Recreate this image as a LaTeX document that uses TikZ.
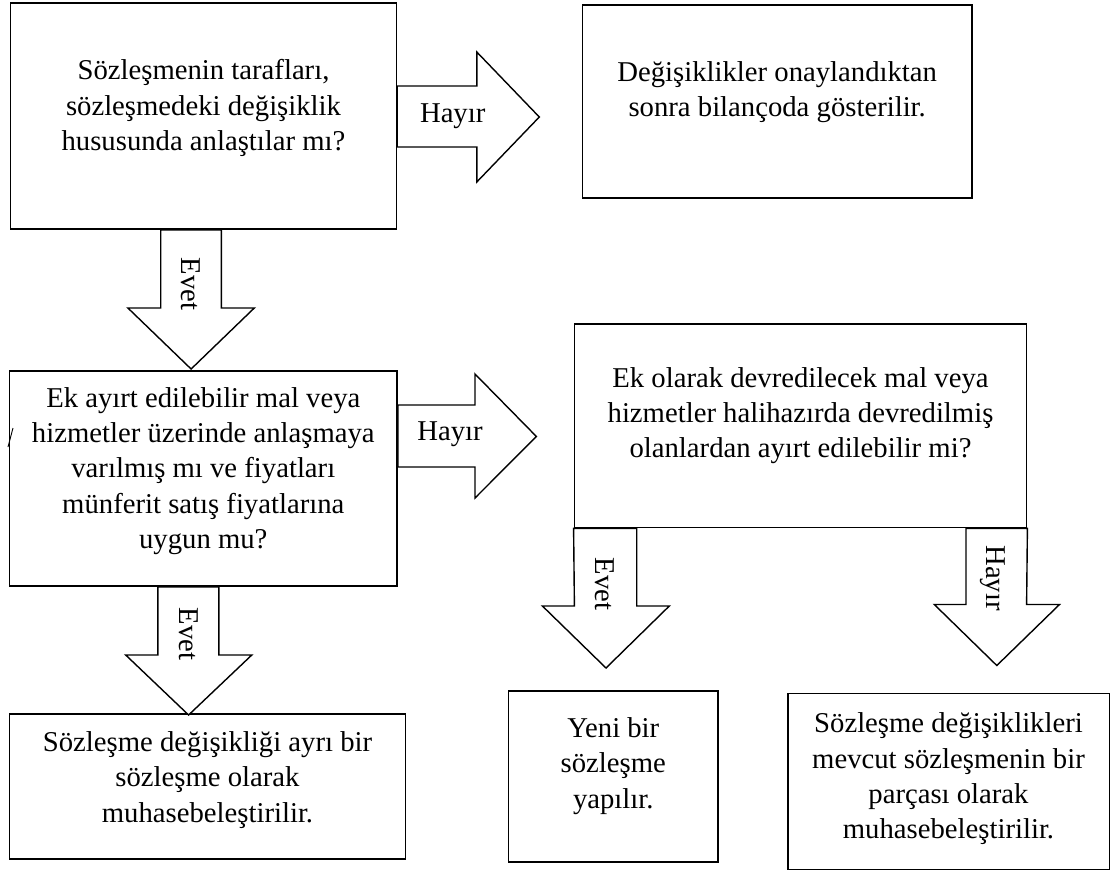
\documentclass[tikz,border=0pt]{standalone}
\usepackage{fontspec}
\setmainfont{Liberation Serif}
\usetikzlibrary{calc}
\begin{document}
\begin{tikzpicture}[x=1pt,y=-1pt,
  box/.style={draw, line width=1.6pt, rectangle, inner sep=0pt},
  txt/.style={align=center, font=\fontsize{28.7}{35.2}\selectfont, inner sep=0pt},
  blk/.style={draw, line width=1.4pt, fill=white, line join=miter},
  lbl/.style={font=\fontsize{28.7}{34}\selectfont, inner sep=0pt}]
\useasboundingbox (0,0) rectangle (1116,873);

% decision and result boxes
\node[box, minimum width=385.7, minimum height=226] (b1) at (203.5,116) {};
\node[box, minimum width=389.6, minimum height=193] (b2) at (777.2,101.5) {};
\node[box, minimum width=387.4, minimum height=215] (b3) at (203.3,478.5) {};
\node[box, minimum width=452.2, minimum height=203.5] (b4) at (800.5,425.75) {};
\node[box, minimum width=395.8, minimum height=145] (b5) at (207.5,786.5) {};
\node[box, minimum width=209.4, minimum height=171] (b6) at (613.3,776.5) {};
\node[box, minimum width=321.6, minimum height=176] (b7) at (948.5,781.3) {};

\node[txt] (t1) at ($(b1.center)+(0,-8)$) {Sözleşmenin tarafları,\\sözleşmedeki değişiklik\\hususunda anlaştılar mı?};
\node[txt] (t2) at ($(b2.center)+(0,-9.5)$) {Değişiklikler onaylandıktan\\sonra bilançoda gösterilir.};
\node[txt] (t3) at ($(b3.center)+(0,-7.5)$) {Ek ayırt edilebilir mal veya\\hizmetler üzerinde anlaşmaya\\varılmış mı ve fiyatları\\münferit satış fiyatlarına\\uygun mu?};
\node[txt] (t4) at ($(b4.center)+(0,-10)$) {Ek olarak devredilecek mal veya\\hizmetler halihazırda devredilmiş\\olanlardan ayırt edilebilir mi?};
\node[txt] (t5) at ($(b5.center)+(0,-6.5)$) {Sözleşme değişikliği ayrı bir\\sözleşme olarak\\muhasebeleştirilir.};
\node[txt] (t6) at ($(b6.center)+(0,-10.5)$) {Yeni bir\\sözleşme\\yapılır.};
\node[txt] (t7) at ($(b7.center)+(0,-2.5)$) {Sözleşme değişiklikleri\\mevcut sözleşmenin bir\\parçası olarak\\muhasebeleştirilir.};

% block arrow b1 -> b2 (Hayır)
\draw[blk] (b1.east |- 0,86) -- (476.8,86) -- (476.8,52) -- (539.3,117)
  -- (476.8,182) -- (476.8,147) -- (b1.east |- 0,147) -- cycle;
\node[lbl] (h1) at (452.7,116) {Hayır};

% block arrow b1 -> b3 (Evet)
\draw[blk] (b1.south -| 160.7,0) -- (160.7,308) -- (127.9,308) -- (191.1,369)
  -- (254.3,308) -- (221.4,308) -- (b1.south -| 221.4,0) -- cycle;
\node[lbl, rotate=-90] (e1) at (191,284) {Evet};

% block arrow b3 -> b4 (Hayır)
\draw[blk] (b3.east |- 0,405) -- (475,405) -- (475,374) -- (536.4,436.5)
  -- (475,498) -- (475,467) -- (b3.east |- 0,467) -- cycle;
\node[lbl] (h2) at (450,434) {Hayır};

% block arrow b3 -> b5 (Evet)
\draw[blk] (b3.south -| 157.9,0) -- (157.9,655) -- (125.7,655) -- (188.6,715)
  -- (251.8,655) -- (218.9,655) -- (b3.south -| 218.9,0) -- cycle;
\node[lbl, rotate=-90] (e2) at (188.6,634) {Evet};

% block arrow b4 -> b6 (Evet)
\draw[blk] (b4.south west) -- (574.4,606) -- (542.4,606) -- (606,668)
  -- (669.3,606) -- (636.7,606) -- (b4.south -| 636.7,0) -- cycle;
\node[lbl, rotate=-90] (e3) at (605,584) {Evet};

% block arrow b4 -> b7 (Hayır)
\draw[blk] (b4.south -| 966,0) -- (966,604.5) -- (934.3,604.5) -- (996.8,665.5)
  -- (1059.5,604.5) -- (1026.6,604.5) -- (b4.south east) -- cycle;
\node[lbl, rotate=-90] (h4) at (993,578) {Hayır};

% small slash mark at the left edge of b3
\draw[line width=0.9pt] (8,447) -- (13,428);
\end{tikzpicture}
\end{document}
